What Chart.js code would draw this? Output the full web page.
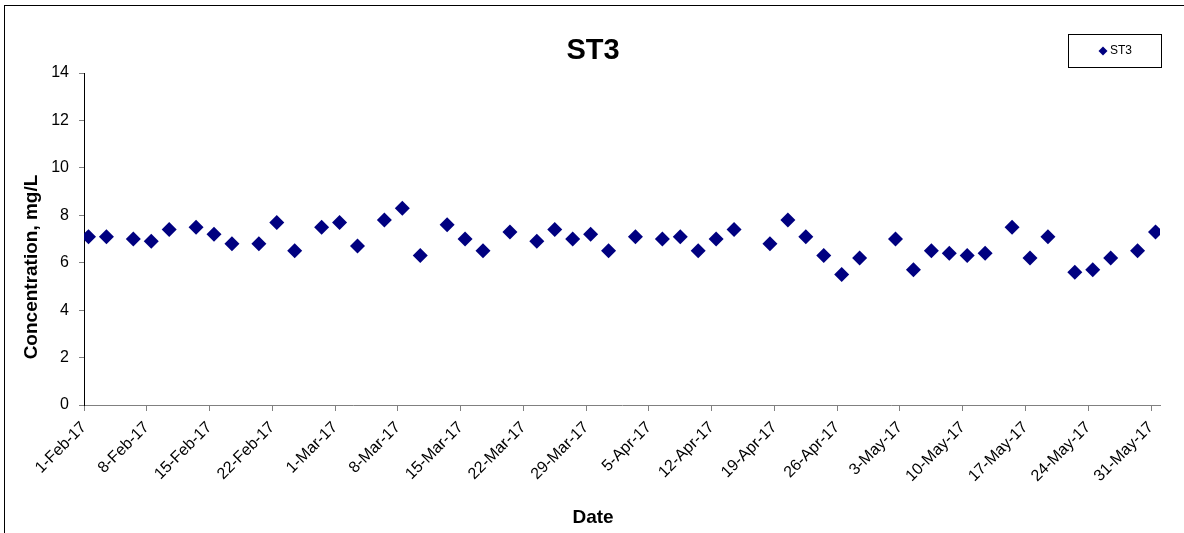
<!DOCTYPE html>
<html>
<head>
<meta charset="utf-8">
<script src="https://cdn.jsdelivr.net/npm/chart.js@4"></script>
<style>
  body { margin: 0; background: #fff; overflow: hidden; }
  canvas { display: block; }
</style>
</head>
<body>
<canvas id="myChart" width="1184" height="533"></canvas>
<script>
const font = '"Liberation Sans", Arial, sans-serif'

// sample dates and ST3 concentration (mg/L)
const dates = ['1-Feb-17','3-Feb-17','6-Feb-17','8-Feb-17','10-Feb-17','13-Feb-17','15-Feb-17','17-Feb-17',
  '20-Feb-17','22-Feb-17','24-Feb-17','27-Feb-17','1-Mar-17','3-Mar-17','6-Mar-17','8-Mar-17','10-Mar-17',
  '13-Mar-17','15-Mar-17','17-Mar-17','20-Mar-17','23-Mar-17','25-Mar-17','27-Mar-17','29-Mar-17','31-Mar-17',
  '3-Apr-17','6-Apr-17','8-Apr-17','10-Apr-17','12-Apr-17','14-Apr-17','18-Apr-17','20-Apr-17','22-Apr-17',
  '24-Apr-17','26-Apr-17','28-Apr-17','2-May-17','4-May-17','6-May-17','8-May-17','10-May-17','12-May-17',
  '15-May-17','17-May-17','19-May-17','22-May-17','24-May-17','26-May-17','29-May-17','31-May-17']
const st3 = [7.1, 7.1, 7.0, 6.9, 7.4, 7.5, 7.2, 6.8,
  6.8, 7.7, 6.5, 7.5, 7.7, 6.7, 7.8, 8.3, 6.3,
  7.6, 7.0, 6.5, 7.3, 6.9, 7.4, 7.0, 7.2, 6.5,
  7.1, 7.0, 7.1, 6.5, 7.0, 7.4, 6.8, 7.8, 7.1,
  6.3, 5.5, 6.2, 7.0, 5.7, 6.5, 6.4, 6.3, 6.4,
  7.5, 6.2, 7.1, 5.6, 5.7, 6.2, 6.5, 7.3]

const tickLabels = ['1-Feb-17','8-Feb-17','15-Feb-17','22-Feb-17','1-Mar-17','8-Mar-17','15-Mar-17',
  '22-Mar-17','29-Mar-17','5-Apr-17','12-Apr-17','19-Apr-17','26-Apr-17','3-May-17','10-May-17',
  '17-May-17','24-May-17','31-May-17']

const months = {Jan:0,Feb:1,Mar:2,Apr:3,May:4,Jun:5,Jul:6,Aug:7,Sep:8,Oct:9,Nov:10,Dec:11}
const start = Date.UTC(2017, 1, 1)

// "1-Feb-17" -> days since 1-Feb-17
function dayOf(s){
    const p = s.split('-')
    return (Date.UTC(2000 + Number(p[2]), months[p[1]], Number(p[0])) - start) / 86400000
}

const points = dates.map((d, i) => ({x: dayOf(d), y: st3[i]}))
const tickDays = tickLabels.map(dayOf)

const frame = {
    id: 'frame',
    afterDraw(chart){
        const c = chart.ctx
        c.save()
        c.strokeStyle = '#000'
        c.lineWidth = 1
        c.strokeRect(4.5, 5.5, 1400, 700)

        // title
        c.fillStyle = '#000'
        c.textAlign = 'center'
        c.textBaseline = 'alphabetic'
        c.font = 'bold 29px ' + font
        c.fillText('ST3', 593, 59)

        // axis titles
        c.font = 'bold 19px ' + font
        c.fillText('Date', 593, 523)
        c.translate(37, 267)
        c.rotate(-Math.PI / 2)
        c.fillText('Concentration, mg/L', 0, 0)
        c.restore()

        // legend
        c.save()
        c.strokeStyle = '#000'
        c.strokeRect(1068.5, 34.5, 93, 33)
        c.fillStyle = '#000080'
        c.beginPath()
        c.moveTo(1103, 46.5); c.lineTo(1107.5, 51); c.lineTo(1103, 55.5); c.lineTo(1098.5, 51)
        c.closePath()
        c.fill()
        c.fillStyle = '#000'
        c.font = '12px ' + font
        c.textBaseline = 'middle'
        c.fillText('ST3', 1110, 51)
        c.restore()
    }
}

const ctx = document.getElementById('myChart').getContext('2d')
const myChart = new Chart(ctx, {
    type: 'scatter',
    data: {
        datasets: [{
            label: 'ST3',
            data: points,
            pointStyle: 'rectRot',
            pointRadius: 7.5,
            backgroundColor: '#000080',
            borderColor: '#000080',
            borderWidth: 0
        }]
    },
    options: {
        responsive: false,
        animation: false,
        layout: {padding: {left: 0, right: 24, top: 73, bottom: 0}},
        plugins: {
            legend: {display: false},
            title: {display: false},
            tooltip: {enabled: false}
        },
        scales: {
            x: {
                type: 'linear',
                min: -0.5,
                max: 119.5,
                afterBuildTicks: s => { s.ticks = tickDays.map(v => ({value: v - 0.5})) },
                afterFit: s => { s.height = 128 },
                grid: {drawOnChartArea: false, drawTicks: true, tickLength: 6, color: '#808080'},
                border: {color: '#808080'},
                ticks: {
                    autoSkip: false,
                    maxRotation: 45,
                    minRotation: 45,
                    padding: 7,
                    color: '#000',
                    font: {size: 16, family: font},
                    callback: (v, i) => tickLabels[i]
                }
            },
            y: {
                min: 0,
                max: 14,
                afterFit: s => { s.width = 84 },
                grid: {drawOnChartArea: false, tickLength: 5, color: '#808080'},
                border: {color: '#000'},
                ticks: {
                    stepSize: 2,
                    padding: 10,
                    color: '#000',
                    font: {size: 16, family: font}
                }
            }
        }
    },
    plugins: [frame]
})
</script>
</body>
</html>
